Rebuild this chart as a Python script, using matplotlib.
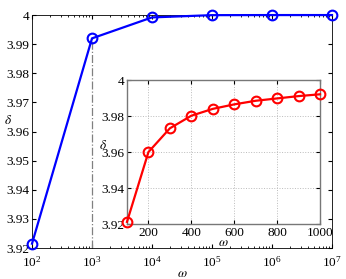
import matplotlib
matplotlib.use("Agg")
import matplotlib.pyplot as plt

# main curve: delta vs omega (log scale)
omega = [1e2, 1e3, 1e4, 1e5, 1e6, 1e7]
delta = [3.9215, 3.9920, 3.9992, 3.99997, 4.0, 4.0]

# inset: small omega
omega_in = [100, 200, 300, 400, 500, 600, 700, 800, 900, 1000]
delta_in = [3.9212, 3.9600, 3.9732, 3.9802, 3.9840, 3.9865, 3.9885, 3.9898, 3.9911, 3.9921]

plt.rcParams['font.family'] = ['Liberation Serif', 'DejaVu Serif']
plt.rcParams['font.size'] = 9.5
plt.rcParams['mathtext.fontset'] = 'stix'

fig = plt.figure(figsize=(3.46, 2.79), dpi=100)
ax = fig.add_axes([0.0925, 0.111, 0.867, 0.835])
ax.plot(omega, delta, 'b-o', lw=1.6, ms=7, mfc='none', mew=1.5, clip_on=False, zorder=5)
ax.plot([1e3, 1e3], [3.92, delta[1]], color='gray', ls='-.', lw=0.9)
ax.set_xscale('log')
ax.set_xlim(1e2, 1e7)
ax.set_ylim(3.92, 4.0)
ax.set_yticks([3.92, 3.93, 3.94, 3.95, 3.96, 3.97, 3.98, 3.99, 4.0])
ax.set_yticklabels(['3.92', '3.93', '3.94', '3.95', '3.96', '3.97', '3.98', '3.99', '4'])
ax.tick_params(which='both', direction='in', top=True, right=True, pad=2)
ax.tick_params(axis='x', which='both', pad=5)
ax.tick_params(which='major', length=3)
ax.tick_params(which='minor', length=1.5)
ax.set_xlabel(r'$\omega$', labelpad=-1)
ax.set_ylabel(r'$\delta$', rotation=0, labelpad=-1)
ax.yaxis.set_label_coords(-0.08, 0.52)
for s in ax.spines.values():
    s.set_linewidth(0.6)

ins = fig.add_axes([0.367, 0.197, 0.558, 0.516])
ins.plot(omega_in, delta_in, 'r-o', lw=1.6, ms=7, mfc='none', mew=1.5, clip_on=False, zorder=5)
ins.set_xlim(100, 1000)
ins.set_ylim(3.92, 4.0)
ins.set_xticks([200, 400, 600, 800, 1000])
ins.set_yticks([3.92, 3.94, 3.96, 3.98, 4.0])
ins.set_yticklabels(['3.92', '3.94', '3.96', '3.98', '4'])
ins.grid(True, ls=':', color='#bbbbbb', lw=0.7)
ins.tick_params(direction='in', length=3, pad=2, top=True, right=True)
ins.set_xlabel(r'$\omega$', labelpad=-1)
ins.set_ylabel(r'$\delta$', rotation=0, labelpad=-1)
for s in ins.spines.values():
    s.set_linewidth(1.0)
    s.set_color('#777777')

fig.savefig('out.png', dpi=100)
